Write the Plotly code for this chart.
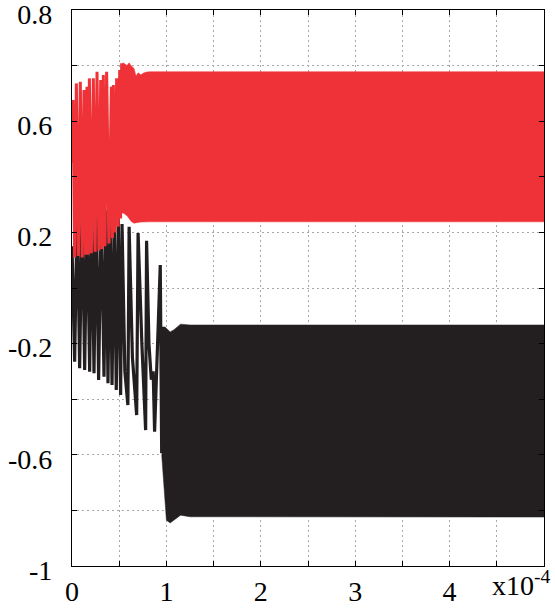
import plotly.graph_objects as go

# ---------------- data (time in units of 1e-4 s) ----------------
# red signal: early transient spikes (alternating values)
red_tr_t = [0.0, 0.011, 0.028, 0.046, 0.067, 0.088, 0.108, 0.127, 0.143, 0.159,
            0.171, 0.184, 0.205, 0.226, 0.245, 0.265, 0.285, 0.304, 0.318, 0.332,
            0.35, 0.367, 0.392, 0.417, 0.428, 0.438, 0.455, 0.473, 0.489, 0.505,
            0.515, 0.526, 0.542]
red_tr_v = [0.45, 0.676, 0.11, 0.736, 0.115, 0.742, 0.11, 0.712, 0.12, 0.724,
            0.12, 0.754, 0.125, 0.754, 0.13, 0.778, 0.135, 0.748, 0.14, 0.766,
            0.15, 0.778, 0.16, 0.724, 0.18, 0.73, 0.2, 0.754, 0.22, 0.784,
            0.25, 0.808, 0.27]

# red signal: dense steady oscillation envelope
red_band_t = [0.53, 0.542, 0.583, 0.604, 0.625, 0.657, 0.678, 0.70, 0.73, 0.763,
              0.794, 0.826, 1.0, 5.0]
red_band_top = [0.79, 0.81, 0.80, 0.81, 0.80, 0.79, 0.763, 0.774, 0.767, 0.774,
                0.777, 0.778, 0.778, 0.778]
red_band_bot = [0.27, 0.27, 0.26, 0.25, 0.24, 0.233, 0.235, 0.236, 0.237, 0.238,
                0.238, 0.238, 0.238, 0.238]

# black signal: early transient spikes
black_tr_t = [0.0, 0.028, 0.055, 0.081, 0.108, 0.134, 0.16, 0.187, 0.21, 0.233,
              0.257, 0.282, 0.31, 0.339, 0.36, 0.381, 0.403, 0.424, 0.447, 0.469,
              0.49, 0.515, 0.53, 0.56, 0.592, 0.605, 0.64, 0.685, 0.70, 0.74,
              0.78, 0.79, 0.815, 0.84, 0.86, 0.875, 0.935, 0.95]
black_tr_v = [0.15, -0.265, 0.30, -0.289, 0.31, -0.295, 0.30, -0.301, 0.29, -0.307,
              0.30, -0.331, 0.29, -0.319, 0.28, -0.343, 0.27, -0.349, 0.26, -0.367,
              0.25, -0.385, 0.23, -0.30, -0.421, 0.22, -0.25, -0.457, 0.198, -0.2,
              -0.511, 0.17, -0.2, -0.33, -0.30, -0.517, 0.083, -0.594]

# black signal: dense steady oscillation envelope
black_band_t = [0.95, 0.985, 1.0, 1.04, 1.08, 1.15, 1.25, 5.0]
black_band_top = [-0.14, -0.14, -0.145, -0.158, -0.15, -0.13, -0.133, -0.133]
black_band_bot = [-0.60, -0.78, -0.835, -0.845, -0.835, -0.817, -0.823, -0.824]

# axis ticks (labelled) ; grid every 0.5 on x and 0.2 on y
x_tickvals = [0, 1, 2, 3, 4]
x_ticktext = ["0", "1", "2", "3", "4"]
y_tickvals = [-1, -0.6, -0.2, 0.2, 0.6, 1.0]
y_ticktext = ["-1", "-0.6", "-0.2", "0.2", "0.6", "0.8"]

RED = "#EE3237"
BLACK = "#231F20"
FONT = "Liberation Serif, Times New Roman, Times, serif"

fig = go.Figure()

# black
fig.add_trace(go.Scatter(x=black_tr_t, y=black_tr_v, mode="lines",
                         line=dict(color=BLACK, width=3.2), showlegend=False,
                         hoverinfo="skip"))
fig.add_trace(go.Scatter(x=black_band_t, y=black_band_bot, mode="lines",
                         line=dict(color=BLACK, width=0.5), showlegend=False,
                         hoverinfo="skip"))
fig.add_trace(go.Scatter(x=black_band_t, y=black_band_top, mode="lines",
                         line=dict(color=BLACK, width=0.5), fill="tonexty",
                         fillcolor=BLACK, showlegend=False, hoverinfo="skip"))

# red
fig.add_trace(go.Scatter(x=red_tr_t, y=red_tr_v, mode="lines",
                         line=dict(color=RED, width=3.0), showlegend=False,
                         hoverinfo="skip"))
fig.add_trace(go.Scatter(x=red_band_t, y=red_band_bot, mode="lines",
                         line=dict(color=RED, width=0.5), showlegend=False,
                         hoverinfo="skip"))
fig.add_trace(go.Scatter(x=red_band_t, y=red_band_top, mode="lines",
                         line=dict(color=RED, width=0.5), fill="tonexty",
                         fillcolor=RED, showlegend=False, hoverinfo="skip"))

GRID = dict(showgrid=True, gridcolor="#a8a8a8", griddash="2px,3px", gridwidth=1)

axis_common = dict(
    showline=True, linecolor="black", linewidth=1.2, mirror="ticks",
    ticks="inside", ticklen=5, tickcolor="black", tickwidth=1,
    zeroline=False, tickfont=dict(family=FONT, size=28, color="black"),
    ticklabeloverflow="allow", automargin=False, **GRID,
)

fig.update_xaxes(range=[0, 5], tickmode="array", tickvals=x_tickvals,
                 ticktext=x_ticktext, ticklabelstandoff=0,
                 minor=dict(dtick=0.5, tick0=0, ticks="inside", ticklen=5,
                            tickcolor="black", **GRID),
                 **axis_common)
fig.update_yaxes(range=[-1, 1], tickmode="array", tickvals=y_tickvals,
                 ticktext=y_ticktext, ticklabelstandoff=13, ticklabelshift=4,
                 minor=dict(dtick=0.2, tick0=0, ticks="inside", ticklen=5,
                            tickcolor="black", **GRID),
                 **axis_common)

fig.add_annotation(xref="paper", yref="paper", x=0.885, y=-0.031,
                   xanchor="left", yanchor="middle", showarrow=False,
                   text="x10<sup>-4</sup>",
                   font=dict(family=FONT, size=28, color="black"))

fig.update_layout(width=555, height=610,
                  margin=dict(l=72, r=11, t=10, b=44, autoexpand=False),
                  paper_bgcolor="white", plot_bgcolor="white")

fig.write_html("out.html")
